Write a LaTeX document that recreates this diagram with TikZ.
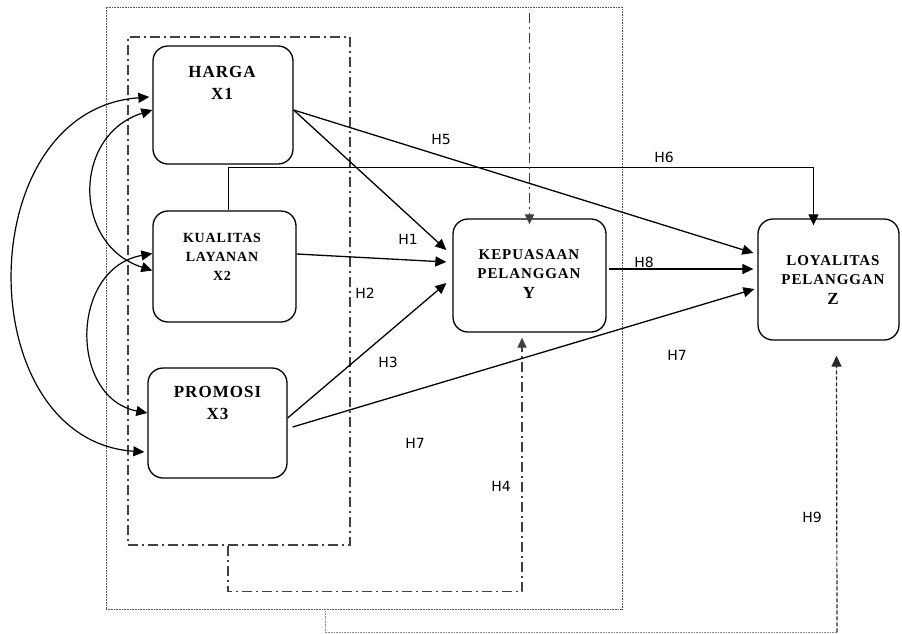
\documentclass[tikz,border=0pt]{standalone}
\usepackage{fontspec}
\setmainfont{Liberation Serif}
\newfontfamily\varfont[LetterSpace=6]{Liberation Serif}
\newfontfamily\hypfont{DejaVu Sans}
\usetikzlibrary{arrows.meta,positioning}

\begin{document}
\begin{tikzpicture}[x=1pt, y=-1pt,
	var/.style={draw, line width=1.3pt, rounded corners=15pt, inner sep=0pt},
	vartext/.style 2 args={align=center, inner sep=0pt, font=\varfont\bfseries\fontsize{#1}{#2}\selectfont},
	hyp/.style={font=\hypfont\fontsize{14}{16}\selectfont, inner sep=0pt},
	link/.style={line width=1.3pt, -{Triangle[length=11pt,width=10pt]}},
	both/.style={line width=1.2pt, {Triangle[length=11pt,width=10pt]}-{Triangle[length=11pt,width=10pt]}},
	dashdotline/.style={line width=1.3pt, black!75, dash pattern=on 10pt off 4pt on 2pt off 4pt},
	dotframe/.style={line width=0.9pt, black!65, dash pattern=on 0.9pt off 0.7pt},
	faint/.style={line width=0.8pt, black!45, dash pattern=on 0.8pt off 0.8pt},
	dashedlink/.style={line width=1.2pt, black!85, dash pattern=on 4pt off 2pt, -{Triangle[length=11pt,width=10pt]}}
	]
	\useasboundingbox (0,0) rectangle (902,633);

	\node[draw, dotframe, minimum width=516pt, minimum height=602pt] (outer) at (364,308) {};
	\node[draw, dashdotline, minimum width=222pt, minimum height=508pt] (group) at (239,291) {};

	\node[var, minimum width=140pt, minimum height=118pt] (x1) at (223,105) {};
	\node[var, minimum width=143pt, minimum height=111pt] (x2) at (224.5,266.5) {};
	\node[var, minimum width=139pt, minimum height=110pt] (x3) at (217.5,423) {};
	\node[var, minimum width=153pt, minimum height=113pt] (y) at (529.5,275.5) {};
	\node[var, minimum width=141pt, minimum height=121pt] (z) at (828.5,279.5) {};

	\node[vartext={17}{22}] (x1t) at (222,83) {HARGA\\X1};
	\node[vartext={14}{19}] (x2t) at (222,257) {KUALITAS\\LAYANAN\\X2};
	\node[vartext={17}{22}] (x3t) at (217.5,403) {PROMOSI\\X3};
	\node[vartext={15}{19}] (yt) at (529,274) {KEPUASAAN\\PELANGGAN\\[1pt]{\fontsize{17}{20}\selectfont Y}};
	\node[vartext={15}{19}] (zt) at (833,280) {LOYALITAS\\PELANGGAN\\[1pt]{\fontsize{17}{20}\selectfont Z}};

	\draw[both] ([xshift=-3pt,yshift=8pt]x1.west) .. controls +(-180,13) and +(-175,-12) .. ([xshift=-3pt,yshift=-29pt]x3.west);
	\draw[both] ([yshift=-5pt]x1.west) .. controls +(-80,25) and +(-80,-25.5) .. ([yshift=-4pt]x2.west);
	\draw[both] ([yshift=13pt]x2.west) .. controls +(-83,15) and +(-78,-15) .. ([yshift=10pt]x3.west);

	\draw[link] ([yshift=-5pt]x1.east) -- ([xshift=-6pt,yshift=25.5pt]y.west);
	\draw[link] ([yshift=-5pt]x1.east) -- ([xshift=-4pt,yshift=26.5pt]z.west);
	\draw[link, line width=0.9pt] ([xshift=3.5pt]x2.north) -- ++(0,-43) -| ([xshift=-15pt,yshift=-7pt]z.north);
	\draw[link] ([yshift=12.5pt]x2.east) -- ([xshift=-6pt,yshift=13.5pt]y.west);
	\draw[link] ([yshift=5pt]x3.east) -- ([xshift=-6pt,yshift=-7.5pt]y.west);
	\draw[link] ([xshift=5pt,yshift=-4pt]x3.east) -- ([xshift=-3pt,yshift=-9.5pt]z.west);
	\draw[link] ([xshift=2pt,yshift=6.5pt]y.east) -- ([xshift=-4pt,yshift=10.5pt]z.west);

	\draw[dashdotline, -{Triangle[length=10pt,width=9pt]}] (y.north |- 0,13) -- ([yshift=-6pt]y.north);
	\draw[dashdotline, -{Triangle[length=10pt,width=9pt]}] ([xshift=-11pt]group.south) -- ++(0,46) -| ([xshift=-7.5pt,yshift=-5pt]y.south);
	\draw[faint] ([xshift=-39pt]outer.south) -- ++(0,23) -- ++(512,0) coordinate (h9);
	\draw[dashedlink] (h9) -- ([xshift=8pt,yshift=-15pt]z.south);

	\node[hyp] (h1) at (408,239) {H1};
	\node[hyp] (h2) at (365,293) {H2};
	\node[hyp] (h3) at (388,362) {H3};
	\node[hyp] (h4) at (501,486) {H4};
	\node[hyp] (h5) at (441,139) {H5};
	\node[hyp] (h6) at (664,157) {H6};
	\node[hyp] (h7a) at (677,355) {H7};
	\node[hyp] (h7b) at (415,443) {H7};
	\node[hyp] (h8) at (644,262) {H8};
	\node[hyp] (h9t) at (812,517) {H9};
\end{tikzpicture}
\end{document}
